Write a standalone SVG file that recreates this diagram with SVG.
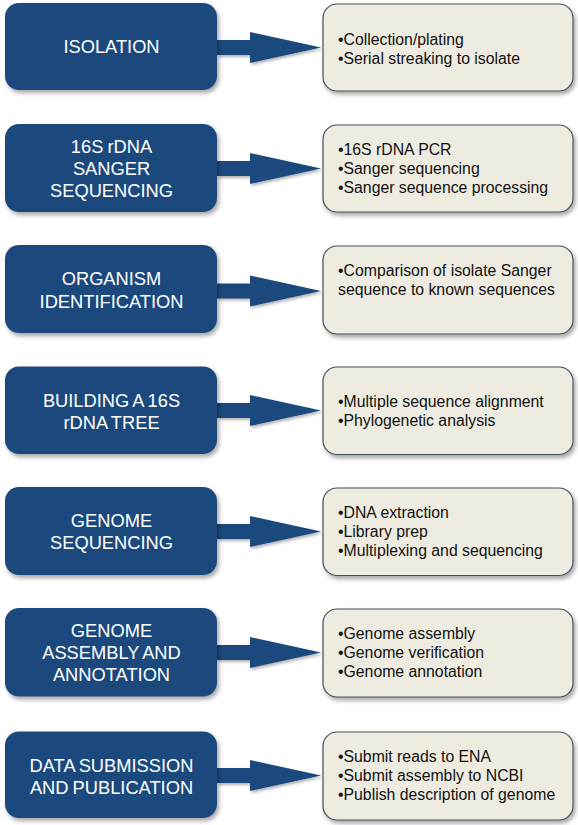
<svg xmlns="http://www.w3.org/2000/svg" width="578" height="825" viewBox="0 0 578 825">
<defs>
<style>
.step{fill:#1f497d;filter:url(#sh);}
.det{fill:#eeece1;stroke:#44505f;stroke-width:1.2;filter:url(#sh);}
.arr{fill:#1f497d;filter:url(#sh2);}
.lt{font-family:"Liberation Sans",Arial,sans-serif;font-size:18.3px;fill:#ffffff;text-anchor:middle;word-spacing:-1px;}
.rt{font-family:"Liberation Sans",Arial,sans-serif;font-size:15.8px;fill:#111111;}
</style>
<filter id="sh" x="-10%" y="-10%" width="125%" height="135%">
<feDropShadow dx="2" dy="3" stdDeviation="2.2" flood-color="#000" flood-opacity="0.35"/>
</filter>
<filter id="sh2" x="-10%" y="-20%" width="125%" height="150%">
<feDropShadow dx="1.5" dy="2" stdDeviation="1.5" flood-color="#000" flood-opacity="0.3"/>
</filter>
</defs>
<rect width="578" height="825" fill="#ffffff"/>

<g id="connectors">
<path class="arr" d="M217,40 H250 V32 L321,47.5 L250,63 V55 H217 Z"/>
<path class="arr" d="M217,161 H250 V153 L321,168.5 L250,184 V176 H217 Z"/>
<path class="arr" d="M217,283.5 H250 V275.5 L321,291 L250,306.5 V298.5 H217 Z"/>
<path class="arr" d="M217,403 H250 V395 L321,410.5 L250,426 V418 H217 Z"/>
<path class="arr" d="M217,524 H250 V516 L321,531.5 L250,547 V539 H217 Z"/>
<path class="arr" d="M217,645 H250 V637 L321,652.5 L250,668 V660 H217 Z"/>
<path class="arr" d="M217,768 H250 V760 L321,775.5 L250,791 V783 H217 Z"/>
</g>

<g id="step1">
<rect class="step" x="5" y="3" width="212" height="87" rx="14"/>
<text class="lt" x="111.5" y="53">ISOLATION</text>
</g>
<g id="detail1">
<rect class="det" x="323" y="4" width="250" height="87" rx="14"/>
<text class="rt" x="338" y="45">•Collection/plating</text>
<text class="rt" x="338" y="64">•Serial streaking to isolate</text>
</g>

<g id="step2">
<rect class="step" x="5" y="124" width="212" height="88" rx="14"/>
<text class="lt" x="111.5" y="153">16S rDNA</text>
<text class="lt" x="111.5" y="175">SANGER</text>
<text class="lt" x="111.5" y="197">SEQUENCING</text>
</g>
<g id="detail2">
<rect class="det" x="323" y="125" width="250" height="87" rx="14"/>
<text class="rt" x="338" y="155">•16S rDNA PCR</text>
<text class="rt" x="338" y="174">•Sanger sequencing</text>
<text class="rt" x="338" y="193">•Sanger sequence processing</text>
</g>

<g id="step3">
<rect class="step" x="5" y="245" width="212" height="88" rx="14"/>
<text class="lt" x="111.5" y="285">ORGANISM</text>
<text class="lt" x="111.5" y="308">IDENTIFICATION</text>
</g>
<g id="detail3">
<rect class="det" x="323" y="246" width="250" height="88" rx="14"/>
<text class="rt" x="338" y="276">•Comparison of isolate Sanger</text>
<text class="rt" x="338" y="295">sequence to known sequences</text>
</g>

<g id="step4">
<rect class="step" x="5" y="366.5" width="212" height="87.5" rx="14"/>
<text class="lt" x="111.5" y="407">BUILDING A 16S</text>
<text class="lt" x="111.5" y="429">rDNA TREE</text>
</g>
<g id="detail4">
<rect class="det" x="323" y="367" width="250" height="87.5" rx="14"/>
<text class="rt" x="338" y="407">•Multiple sequence alignment</text>
<text class="rt" x="338" y="426">•Phylogenetic analysis</text>
</g>

<g id="step5">
<rect class="step" x="5" y="487" width="212" height="88" rx="14"/>
<text class="lt" x="111.5" y="527">GENOME</text>
<text class="lt" x="111.5" y="549">SEQUENCING</text>
</g>
<g id="detail5">
<rect class="det" x="323" y="488" width="250" height="87.5" rx="14"/>
<text class="rt" x="338" y="518">•DNA extraction</text>
<text class="rt" x="338" y="537">•Library prep</text>
<text class="rt" x="338" y="556">•Multiplexing and sequencing</text>
</g>

<g id="step6">
<rect class="step" x="5" y="608" width="212" height="88.5" rx="14"/>
<text class="lt" x="111.5" y="637">GENOME</text>
<text class="lt" x="111.5" y="659">ASSEMBLY AND</text>
<text class="lt" x="111.5" y="681">ANNOTATION</text>
</g>
<g id="detail6">
<rect class="det" x="323" y="609" width="250" height="88" rx="14"/>
<text class="rt" x="338" y="639">•Genome assembly</text>
<text class="rt" x="338" y="658">•Genome verification</text>
<text class="rt" x="338" y="677">•Genome annotation</text>
</g>

<g id="step7">
<rect class="step" x="5" y="731.5" width="212" height="86.5" rx="14"/>
<text class="lt" x="111.5" y="772">DATA SUBMISSION</text>
<text class="lt" x="111.5" y="794">AND PUBLICATION</text>
</g>
<g id="detail7">
<rect class="det" x="323" y="732" width="250" height="88" rx="14"/>
<text class="rt" x="338" y="762">•Submit reads to ENA</text>
<text class="rt" x="338" y="781">•Submit assembly to NCBI</text>
<text class="rt" x="338" y="800">•Publish description of genome</text>
</g>
</svg>
